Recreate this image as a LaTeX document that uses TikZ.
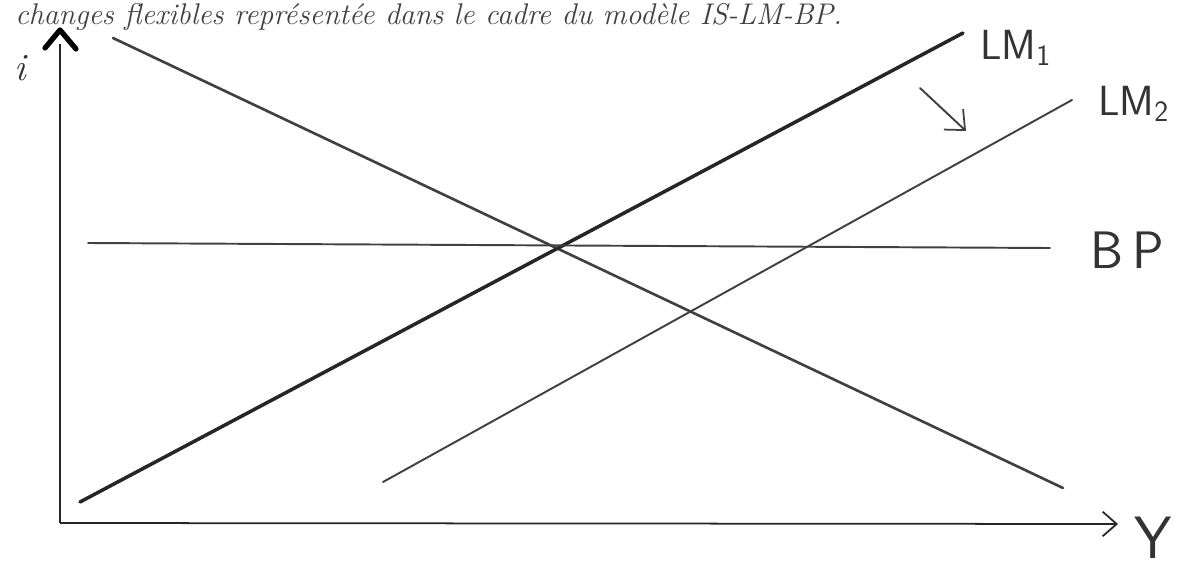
\documentclass[tikz,border=0pt]{standalone}
\usepackage{fontspec}
\usetikzlibrary{arrows.meta}
\begin{document}
\begin{tikzpicture}[x=0.02cm,y=-0.02cm,
  curve/.style={draw=black!75, line width=1.1pt, line cap=round},
  thickcurve/.style={draw=black!85, line width=1.6pt, line cap=round},
  axis/.style={draw=black!85, line width=1pt},
  lbl/.style={font=\fontsize{24}{28}\selectfont\sffamily, text=black!80, inner sep=0pt},
  barb/.style={-{Straight Barb[length=8pt,width=14pt,line width=1pt]}}]
\useasboundingbox (0,0) rectangle (1179,571);
% top caption
\node[anchor=base west, inner sep=0pt, font=\fontsize{17}{20}\selectfont\itshape, text=black!75] (cap) at (15,25)
  {changes flexibles représentée dans le cadre du modèle IS-LM-BP.};
% axes
\coordinate (O) at (60,523);
\coordinate (ytop) at (60,30);
\coordinate (xend) at (1118,524);
\draw[axis] (O) -- (60,44);
\draw[draw=black, line width=3pt, line cap=round, line join=round] (45,48) -- (ytop) -- (76,49);
\draw[axis, barb] (O) -- (xend);
\node[lbl, font=\fontsize{22}{24}\selectfont\itshape] (ilab) at (20,68) {i};
\node[lbl, font=\fontsize{34}{38}\selectfont\sffamily, anchor=east] (ylab) at (1172,538) {Y};
% IS
\coordinate (is1) at (113,38);
\coordinate (is2) at (1063,488);
\draw[curve, line width=1.5pt] (is1) -- (is2);
% LM1
\coordinate (lm1a) at (80,502);
\coordinate (lm1b) at (963,33);
\draw[thickcurve, line width=2pt] (lm1a) -- (lm1b);
\node[lbl, anchor=west] (lm1lab) at (980,48) {LM\textsubscript{1}};
% LM2
\coordinate (lm2a) at (383,482);
\coordinate (lm2b) at (1072,100);
\draw[curve] (lm2a) -- (lm2b);
\node[lbl, anchor=west] (lm2lab) at (1098,104) {LM\textsubscript{2}};
% BP
\coordinate (bp1) at (88,243);
\coordinate (bp2) at (1050,248);
\draw[curve] (bp1) -- (bp2);
\node[lbl, anchor=west, font=\fontsize{30}{34}\selectfont\sffamily] (bplab) at (1090,250) {B\,P};
% shift arrow
\coordinate (sh1) at (920,88);
\coordinate (sh2) at (966,131);
\draw[curve, -{Straight Barb[length=9pt,width=16pt,line width=1pt]}] (sh1) -- (sh2);
\end{tikzpicture}
\end{document}
